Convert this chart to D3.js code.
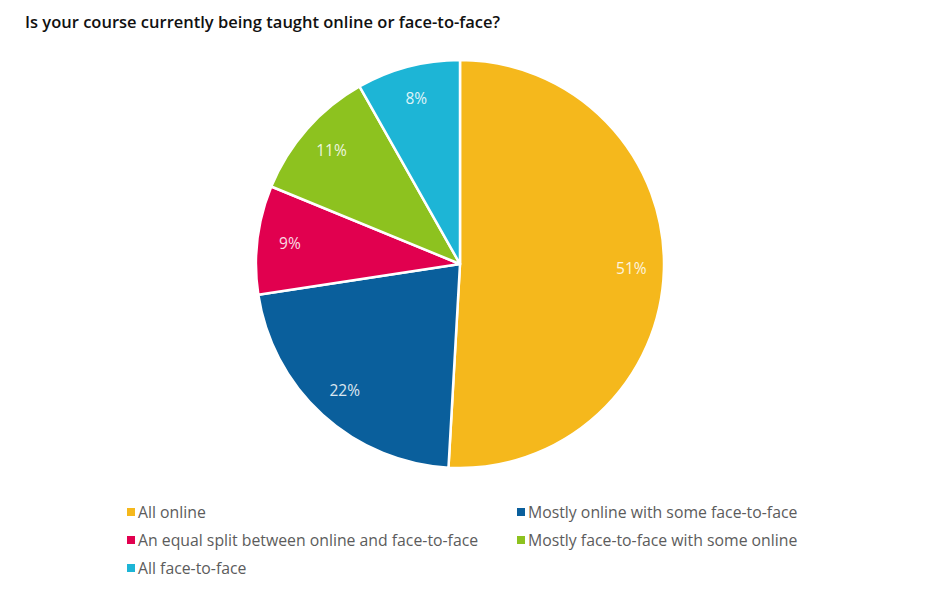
<!DOCTYPE html>
<html>
<head>
<meta charset="utf-8">
<script src="https://cdn.jsdelivr.net/npm/d3@7"></script>
<style>
  body { margin: 0; background: #fff; }
  svg { font-family: "Open Sans", sans-serif; }
</style>
</head>
<body>
<div id="chart"></div>
<script>
var categories = ["All online", "Mostly online with some face-to-face", "An equal split between online and face-to-face", "Mostly face-to-face with some online", "All face-to-face"];
var values = [50.9, 21.7, 8.6, 10.6, 8.2];
var colors = ["#f5b81c", "#0a5f9c", "#e1004f", "#8dc21f", "#1db5d6"];

var width = 944, height = 594;
var cx = 460, cy = 264, radius = 204;

var svg = d3.select("#chart").append("svg")
    .attr("width", width)
    .attr("height", height);

// title
svg.append("text")
    .attr("x", 25)
    .attr("y", 28)
    .attr("fill", "#111")
    .style("font-size", "16.5px")
    .style("font-weight", "600")
    .text("Is your course currently being taught online or face-to-face?");

var data = categories.map(function(c, i) { return {name: c, value: values[i], color: colors[i]}; });

var pie = d3.pie()
    .value(function(d) { return d.value; })
    .sort(null);

var arc = d3.arc().innerRadius(0).outerRadius(radius);
var labelArc = d3.arc().innerRadius(radius * 0.84).outerRadius(radius * 0.84);

var g = svg.append("g")
    .attr("transform", "translate(" + cx + "," + cy + ")");

var slices = g.selectAll(".slice")
    .data(pie(data))
    .enter().append("g")
    .attr("class", "slice");

slices.append("path")
    .attr("d", arc)
    .attr("fill", function(d) { return d.data.color; })
    .attr("stroke", "#fff")
    .attr("stroke-width", 2.5)
    .attr("stroke-linejoin", "round");

slices.append("text")
    .attr("transform", function(d) { return "translate(" + labelArc.centroid(d) + ")"; })
    .attr("text-anchor", "middle")
    .attr("dy", "0.35em")
    .attr("fill", "#fff")
    .style("font-size", "15.5px")
    .style("opacity", 0.85)
    .text(function(d) { return Math.round(d.data.value) + "%"; });

// legend, two columns
var legend = svg.append("g").attr("class", "legend");

var items = legend.selectAll(".item")
    .data(data)
    .enter().append("g")
    .attr("class", "item")
    .attr("transform", function(d, i) {
      var col = i % 2, row = Math.floor(i / 2);
      return "translate(" + (127 + col * 390) + "," + (512 + row * 28) + ")";
    });

items.append("rect")
    .attr("x", 0)
    .attr("y", -4)
    .attr("width", 8)
    .attr("height", 8)
    .attr("fill", function(d) { return d.color; });

items.append("text")
    .attr("x", 11)
    .attr("dy", "0.35em")
    .attr("fill", "#5c5c5c")
    .style("font-size", "15.8px")
    .text(function(d) { return d.name; });
</script>
</body>
</html>
